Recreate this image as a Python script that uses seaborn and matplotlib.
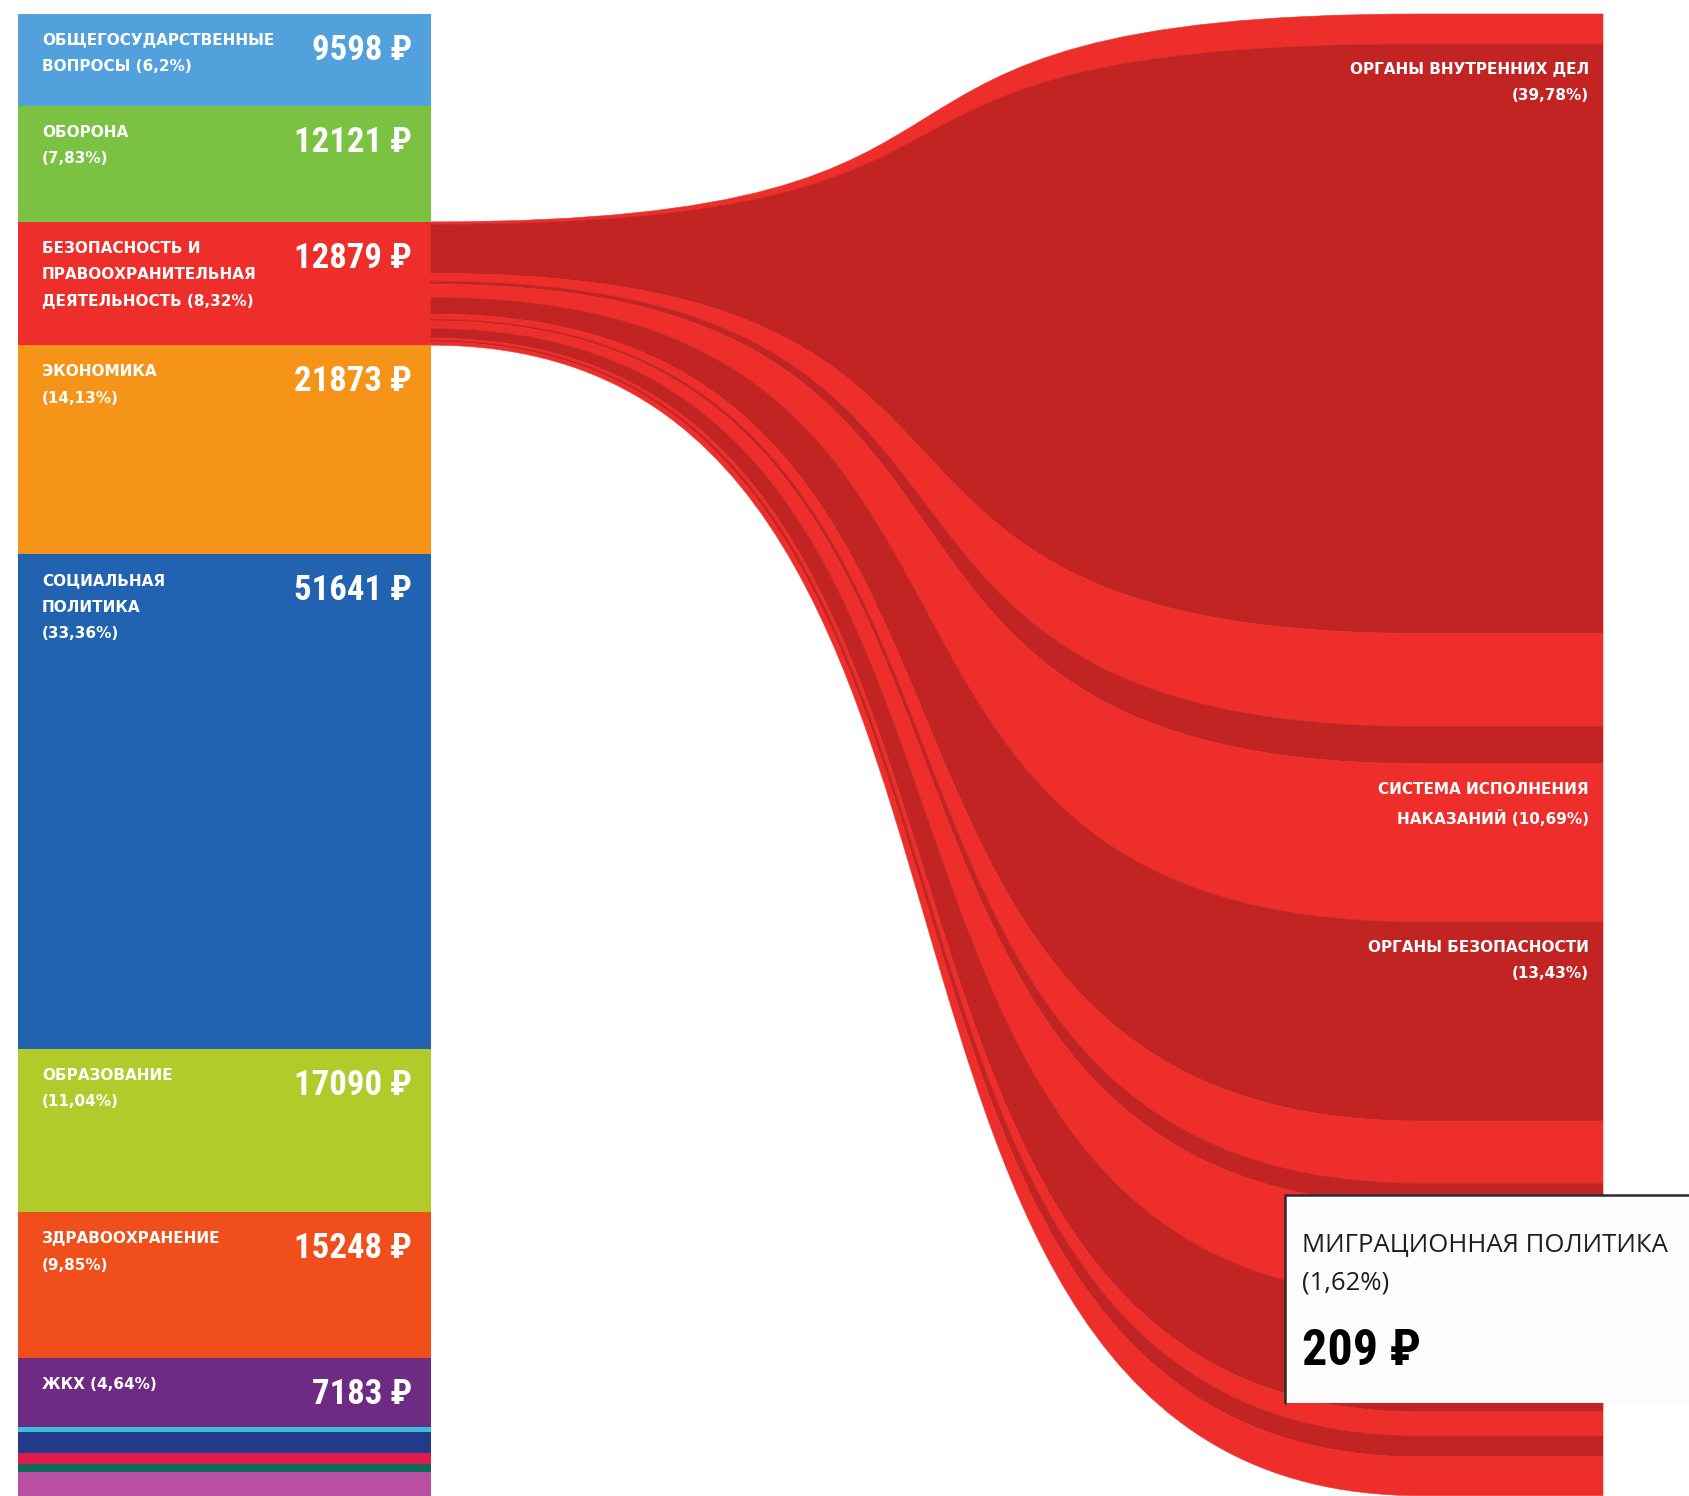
import os
import numpy as np
import matplotlib.pyplot as plt
import seaborn as sns
from matplotlib import font_manager as fm
from matplotlib.path import Path
from matplotlib.patches import PathPatch, Rectangle

sns.set_theme(style='white')
plt.rcParams['font.family'] = ['DejaVu Sans']

# Budget sections, rubles per person
section_labels = [
    'ОБЩЕГОСУДАРСТВЕННЫЕ\nВОПРОСЫ (6,2%)',
    'ОБОРОНА\n(7,83%)',
    'БЕЗОПАСНОСТЬ И\nПРАВООХРАНИТЕЛЬНАЯ\nДЕЯТЕЛЬНОСТЬ (8,32%)',
    'ЭКОНОМИКА\n(14,13%)',
    'СОЦИАЛЬНАЯ\nПОЛИТИКА\n(33,36%)',
    'ОБРАЗОВАНИЕ\n(11,04%)',
    'ЗДРАВООХРАНЕНИЕ\n(9,85%)',
    'ЖКХ (4,64%)',
    '', '', '', '', '',
]
section_values = [9598, 12121, 12879, 21873, 51641, 17090, 15248, 7183,
                  520, 2190, 1150, 830, 2480]
section_colors = ['#52A1DC', '#7BC142', '#EE2E2B', '#F6941A', '#2263B1',
                  '#B1CB2B', '#F04F1B', '#6E2B83', '#3FBDD9', '#223A8A',
                  '#E01B4B', '#0D6A58', '#B94FA0']
expanded = 2  # security section is opened on the right

# Breakdown of the security section, rubles per person
security_labels = ['', 'ОРГАНЫ ВНУТРЕННИХ ДЕЛ\n(39,78%)', '', '',
                   'СИСТЕМА ИСПОЛНЕНИЯ\nНАКАЗАНИЙ (10,69%)',
                   'ОРГАНЫ БЕЗОПАСНОСТИ\n(13,43%)',
                   '', '', '', '', '', '', '']
security_values = [261, 5123, 810, 322, 1377, 1730, 540, 183, 805, 1000, 209, 182, 337]
flow_colors = ['#EE2E2B', '#C22323']

# Tooltip for the hovered band
tip_name = 'МИГРАЦИОННАЯ ПОЛИТИКА'
tip_pct = '(1,62%)'
tip_value = 209


# look for a condensed bold face for the big numbers
def narrow_font():
    prefs = ['LiberationSansNarrow-Bold', 'RobotoCondensed-Bold', 'DejaVuSansCondensed-Bold',
             'NotoSans-CondensedBold', 'OpenSans-CondensedBold', 'OpenSans_Condensed-Bold',
             'NotoSansDisplay-CondensedBold']
    fonts = fm.fontManager.ttflist
    for p in prefs:
        for f in fonts:
            if os.path.splitext(os.path.basename(f.fname))[0] == p:
                return f
    for f in fonts:
        b = os.path.basename(f.fname).lower()
        if ('condensed' in b or 'narrow' in b) and 'bold' in b and not any(
                s in b for s in ('italic', 'extra', 'semi', 'ultra', 'oblique')):
            return f
    return None


nf = narrow_font()
if nf is not None:
    big = dict(family=[nf.name, 'DejaVu Sans'], weight=nf.weight, stretch=nf.stretch)
    big_scale = 1.0
else:
    big = dict(family=['DejaVu Sans'], weight='bold')
    big_scale = 0.8

W, H = 1690, 1496
fig = plt.figure(figsize=(W / 100, H / 100), dpi=100)
ax = fig.add_axes([0, 0, 1, 1])

# y axis in rubles, top margin 14 px
px = 0.009571
ax.set_xlim(0, W)
ax.set_ylim((H - 14) / px, -14 / px)
ax.axis('off')

bar_l, bar_r = 18, 431
values = np.array(section_values)
bottoms = np.concatenate([[0], np.cumsum(values)[:-1]])
total = values.sum()
ax.bar((bar_l + bar_r) / 2, values, bottom=bottoms, width=bar_r - bar_l,
       color=section_colors, linewidth=0)

for lab, v, b in zip(section_labels, section_values, bottoms):
    if not lab:
        continue
    ax.annotate(lab, xy=(bar_l, b), xytext=(24, -19), textcoords='offset pixels',
                ha='left', va='top', color='white', fontsize=11,
                fontweight='bold', linespacing=1.95)
    ax.annotate(f'{v} ₽', xy=(bar_r, b), xytext=(-19, -20), textcoords='offset pixels',
                ha='right', va='top', color='white', fontsize=25 * big_scale, **big)

# flows from the security segment to the expanded column
sec = np.array(security_values)
cum = np.concatenate([[0], np.cumsum(sec)])
left_y = bottoms[expanded] + cum
right_y = cum * total / sec.sum()
x0, xc, x1 = bar_r, 1420, 1603
hx = 0.66 * (xc - x0)
codes = [Path.MOVETO, Path.CURVE4, Path.CURVE4, Path.CURVE4, Path.LINETO,
         Path.LINETO, Path.LINETO, Path.CURVE4, Path.CURVE4, Path.CURVE4,
         Path.CLOSEPOLY]
for i in range(len(sec)):
    lt, lb = left_y[i], left_y[i + 1]
    rt, rb = right_y[i], right_y[i + 1]
    verts = [(x0, lt), (x0 + hx, lt), (xc - hx, rt), (xc, rt), (x1, rt), (x1, rb),
             (xc, rb), (xc - hx, rb), (x0 + hx, lb), (x0, lb), (x0, lt)]
    c = flow_colors[i % 2]
    ax.add_patch(PathPatch(Path(verts, codes), facecolor=c, edgecolor=c, lw=0.4))
    if security_labels[i]:
        ax.annotate(security_labels[i], xy=(x1, rt), xytext=(-14, -18),
                    textcoords='offset pixels', ha='right', va='top',
                    multialignment='right', color='white', fontsize=11,
                    fontweight='bold', linespacing=1.95)

# tooltip: light box with dark top and left borders
tx, ty0, ty1 = 1285 / W, 1 - 1403 / H, 1 - 1195 / H
ax.add_patch(Rectangle((tx, ty0), 1.0 - tx, ty1 - ty0, transform=ax.transAxes,
                       facecolor='#FCFCFC', edgecolor='none', clip_on=False, zorder=5))
ax.plot([tx, tx, 1.0], [ty0, ty1, ty1], transform=ax.transAxes, color='#2B2B2B',
        lw=1.8, solid_joinstyle='miter', clip_on=False, zorder=6)
ax.text(1302 / W, 1 - 1233 / H, tip_name, transform=ax.transAxes, ha='left', va='top',
        family=['Open Sans', 'DejaVu Sans'], fontsize=18.5, color='#1E1E1E', zorder=6)
ax.text(1302 / W, 1 - 1271 / H, tip_pct, transform=ax.transAxes, ha='left', va='top',
        family=['Open Sans', 'DejaVu Sans'], fontsize=18.5, color='#1E1E1E', zorder=6)
ax.text(1302 / W, 1 - 1328 / H, f'{tip_value} ₽', transform=ax.transAxes, ha='left',
        va='top', fontsize=36 * big_scale, color='black', zorder=6, **big)

fig.savefig('out.png', dpi=100)
